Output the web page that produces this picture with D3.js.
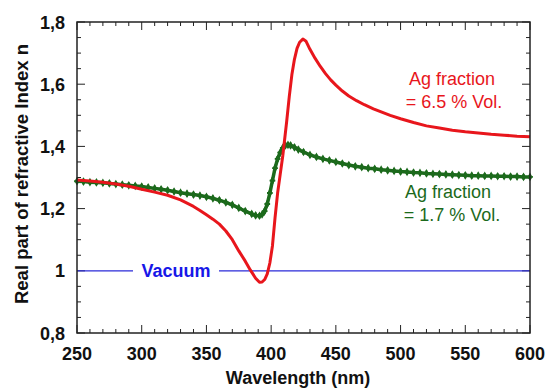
<!DOCTYPE html>
<html><head><meta charset="utf-8">
<script src="https://cdn.jsdelivr.net/npm/d3@7"></script>
<style>body{margin:0;background:#fff}svg{display:block}text{font-family:Arial,"Liberation Sans",sans-serif}</style>
</head><body>
<script>
const redWl =  [250,260,270,280,290,300,310,320,330,340,345,350,355,360,365,370,375,380,384,388,391,393,395,397,399,401,403,405,407,409,412,414,416,418,420,422,424.5,427,430,434,438,442,446,450,455,460,466,472,479,485,492,500,510,520,530,540,550,560,570,580,590,600];
const redN =   [1.292,1.289,1.285,1.279,1.272,1.262,1.253,1.243,1.228,1.207,1.194,1.18,1.166,1.15,1.128,1.10,1.064,1.031,1.002,0.976,0.963,0.964,0.972,0.99,1.025,1.08,1.17,1.25,1.31,1.37,1.48,1.56,1.63,1.68,1.715,1.735,1.745,1.738,1.712,1.683,1.657,1.634,1.614,1.597,1.578,1.562,1.547,1.534,1.521,1.511,1.5,1.489,1.477,1.466,1.459,1.452,1.447,1.443,1.439,1.436,1.433,1.431];
const greenWl = [250,255,260,265,270,275,280,285,290,295,300,305,310,315,320,325,330,335,340,345,350,355,360,365,370,375,380,385,388,391,393,395,397,399,401,403,405,407,409,411,413,415,418,421,425,430,435,440,445,450,455,460,465,470,475,480,485,490,495,500,505,510,515,520,525,530,535,540,545,550,555,560,565,570,575,580,585,590,595,600];
const greenN =  [1.288,1.287,1.285,1.284,1.283,1.281,1.279,1.277,1.275,1.273,1.271,1.268,1.265,1.262,1.259,1.255,1.251,1.248,1.245,1.242,1.238,1.233,1.227,1.22,1.212,1.202,1.192,1.183,1.178,1.177,1.181,1.192,1.215,1.25,1.29,1.33,1.36,1.38,1.395,1.403,1.405,1.403,1.397,1.39,1.382,1.373,1.366,1.36,1.355,1.35,1.345,1.34,1.336,1.333,1.33,1.328,1.325,1.323,1.321,1.319,1.318,1.316,1.315,1.313,1.312,1.311,1.31,1.309,1.308,1.307,1.306,1.306,1.305,1.305,1.304,1.304,1.303,1.303,1.302,1.302];
const vacuumN = 1.0;
const xTicks = [250,300,350,400,450,500,550,600];
const yTicks = [0.8,1.0,1.2,1.4,1.6,1.8];
const yTickLabels = ["0,8","1","1,2","1,4","1,6","1,8"];

const W = 546, H = 389;
const m = {l:77, r:530, t:22, b:333};
const svg = d3.select("body").append("svg").attr("width",W).attr("height",H);
const x = d3.scaleLinear().domain([250,600]).range([m.l,m.r]);
const y = d3.scaleLinear().domain([0.8,1.8]).range([m.b,m.t]);

const RED = "#e8161c", GREEN = "#1c6a1c", BLUE = "#2a2ad8", BLUET = "#1717e8";

const g = svg.append("g").attr("stroke","#222").attr("stroke-width",1);
d3.range(250,601,10).forEach(v=>{
  const L = (v%50===0)?8:4;
  g.append("line").attr("x1",x(v)).attr("x2",x(v)).attr("y1",m.b).attr("y2",m.b-L);
  g.append("line").attr("x1",x(v)).attr("x2",x(v)).attr("y1",m.t).attr("y2",m.t+L);
});
d3.range(0,21).map(i=>0.8+i*0.05).forEach((v,i)=>{
  const L = (i%4===0)?8:4;
  g.append("line").attr("y1",y(v)).attr("y2",y(v)).attr("x1",m.l).attr("x2",m.l+L);
  g.append("line").attr("y1",y(v)).attr("y2",y(v)).attr("x1",m.r).attr("x2",m.r-L);
});

svg.append("line").attr("x1",m.l).attr("x2",133).attr("y1",y(vacuumN)).attr("y2",y(vacuumN)).attr("stroke",BLUE).attr("stroke-width",1.3);
svg.append("line").attr("x1",219).attr("x2",m.r).attr("y1",y(vacuumN)).attr("y2",y(vacuumN)).attr("stroke",BLUE).attr("stroke-width",1.3);
svg.append("text").attr("x",176).attr("y",y(vacuumN)+6.5).attr("text-anchor","middle")
  .attr("font-size",18).attr("font-weight","bold").attr("fill",BLUET).text("Vacuum");

const line = d3.line().x(d=>x(d[0])).y(d=>y(d[1]));
const gData = greenWl.map((w,i)=>[w,greenN[i]]);
const rData = redWl.map((w,i)=>[w,redN[i]]);

svg.append("path").datum(gData).attr("d",line).attr("fill","none").attr("stroke",GREEN).attr("stroke-width",3.5);
const sym = d3.symbol().type(d3.symbolDiamond).size(22);
svg.append("g").selectAll("path").data(gData).join("path")
  .attr("d",sym).attr("transform",d=>`translate(${x(d[0])},${y(d[1])})`).attr("fill",GREEN);
svg.append("g").selectAll("path").data(gData).join("path")
  .attr("d",d3.symbol().type(d3.symbolCross).size(18)).attr("transform",d=>`translate(${x(d[0])},${y(d[1])})`).attr("fill",GREEN);

svg.append("path").datum(rData).attr("d",line).attr("fill","none").attr("stroke",RED).attr("stroke-width",3).attr("stroke-linejoin","round");

svg.append("rect").attr("x",m.l).attr("y",m.t).attr("width",m.r-m.l).attr("height",m.b-m.t)
  .attr("fill","none").attr("stroke","#222").attr("stroke-width",1.5);

svg.append("g").selectAll("text").data(xTicks).join("text")
  .attr("x",d=>x(d)).attr("y",360).attr("text-anchor","middle").attr("font-size",18).attr("font-weight","bold").attr("fill","#111").text(d=>d);
svg.append("g").selectAll("text").data(yTicks).join("text")
  .attr("x",65).attr("y",d=>y(d)+6.5).attr("text-anchor","end").attr("font-size",18).attr("font-weight","bold").attr("fill","#111").text((d,i)=>yTickLabels[i]);

svg.append("text").attr("x",298).attr("y",384).attr("text-anchor","middle").attr("font-size",18).attr("font-weight","bold").attr("fill","#111").text("Wavelength (nm)");
svg.append("text").attr("transform","translate(28,174) rotate(-90)").attr("text-anchor","middle").attr("font-size",18.5).attr("font-weight","bold").attr("fill","#111").text("Real part of refractive Index n");

svg.append("text").attr("x",452).attr("y",85).attr("text-anchor","middle").attr("font-size",18).attr("fill",RED).text("Ag fraction");
svg.append("text").attr("x",454).attr("y",108).attr("text-anchor","middle").attr("font-size",18).attr("fill",RED).text("= 6.5 % Vol.");
svg.append("text").attr("x",448).attr("y",198).attr("text-anchor","middle").attr("font-size",18).attr("fill",GREEN).text("Ag fraction");
svg.append("text").attr("x",452).attr("y",221).attr("text-anchor","middle").attr("font-size",18).attr("fill",GREEN).text("= 1.7 % Vol.");
</script>
</body></html>
